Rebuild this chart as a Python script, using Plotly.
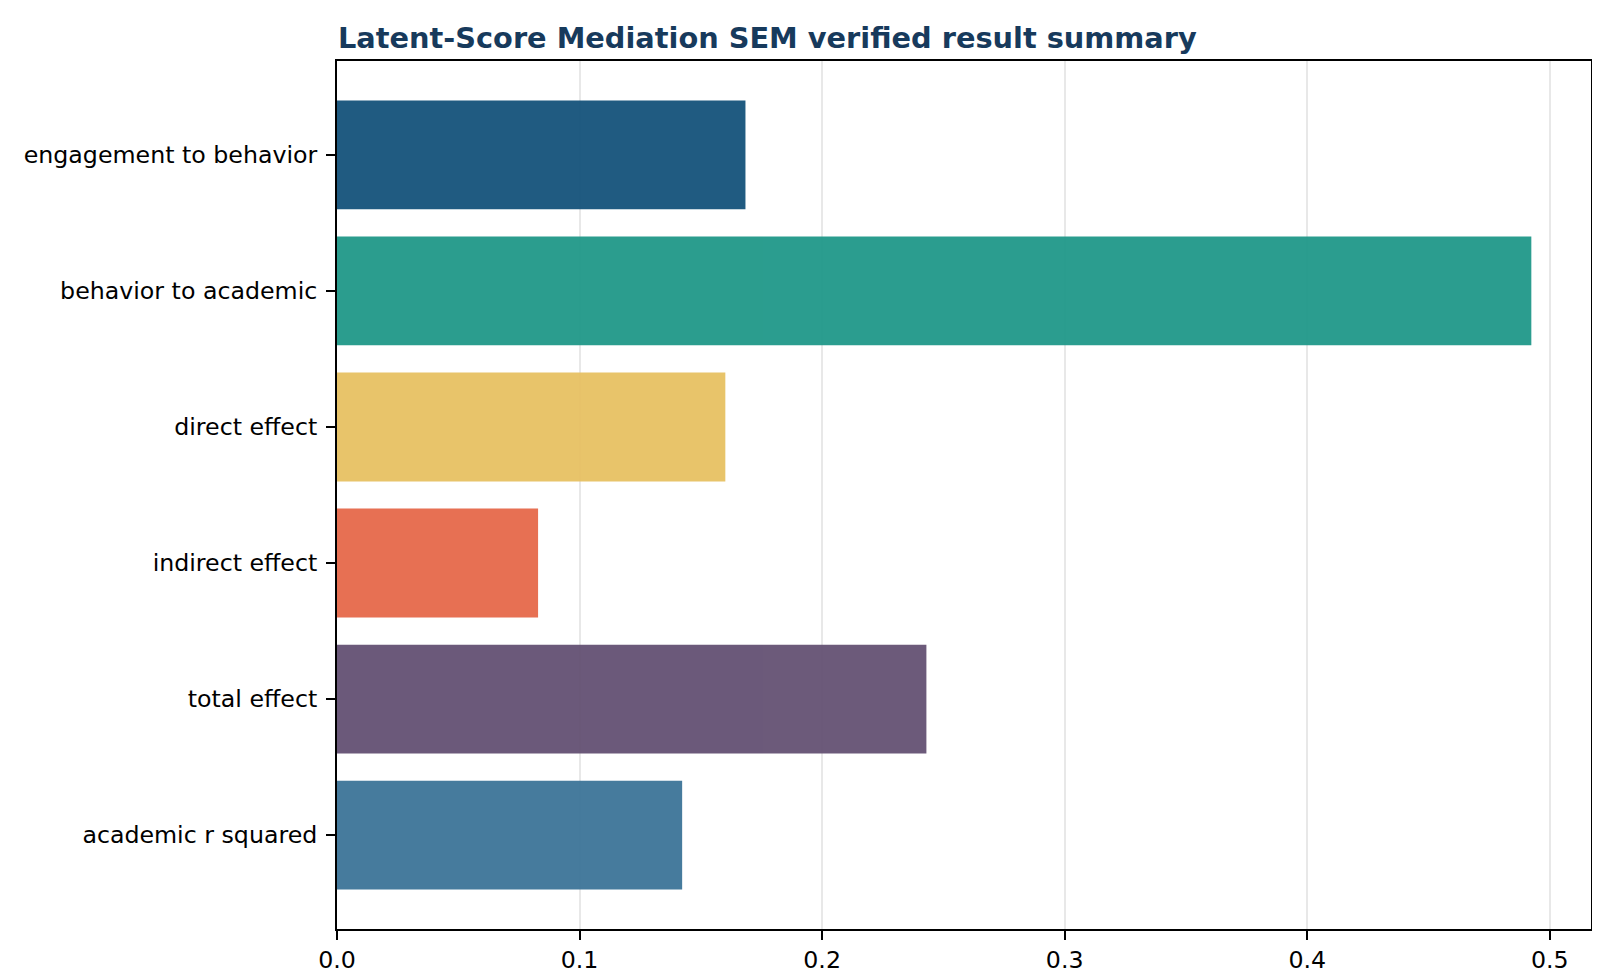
import plotly.graph_objects as go

# SEM result summary values
labels = ["engagement to behavior", "behavior to academic", "direct effect",
          "indirect effect", "total effect", "academic r squared"]
values = [0.1684, 0.4924, 0.1601, 0.0829, 0.2430, 0.1423]
colors = ["#15537b", "#209889", "#e7c163", "#e6694a", "#645173", "#3c7498"]
xticks = [0.0, 0.1, 0.2, 0.3, 0.4, 0.5]

fig = go.Figure()
fig.add_trace(go.Bar(
    x=values, y=labels, orientation="h",
    marker=dict(color=colors, line=dict(width=0)),
    opacity=0.95, width=0.8, showlegend=False,
))

fig.update_layout(
    width=1600, height=978,
    margin=dict(l=329, r=17, t=53, b=57),
    plot_bgcolor="white", paper_bgcolor="white",
    font=dict(family="DejaVu Sans", size=23.7, color="black"),
    title=dict(text="<b>Latent-Score Mediation SEM verified result summary</b>",
               x=330 / 1600, xanchor="left", y=1 - 30 / 978, yanchor="middle",
               font=dict(size=28.8, color="#173a5c")),
)
fig.update_xaxes(
    range=[0, 0.517], tickvals=xticks, ticktext=["%.1f" % t for t in xticks],
    showgrid=True, gridcolor="#e8e8e8", gridwidth=1.5, zeroline=False,
    showline=True, linecolor="black", linewidth=2, mirror=True,
    ticks="outside", ticklen=9, tickwidth=2, tickcolor="black",
)
fig.update_yaxes(
    range=[len(labels) - 1 + 0.69, -0.69], showgrid=False, automargin=False,
    showline=True, linecolor="black", linewidth=2, mirror=True,
    ticks="outside", ticklen=9, tickwidth=2, tickcolor="black",
    ticklabelstandoff=4,
)

fig.write_html("out.html")
